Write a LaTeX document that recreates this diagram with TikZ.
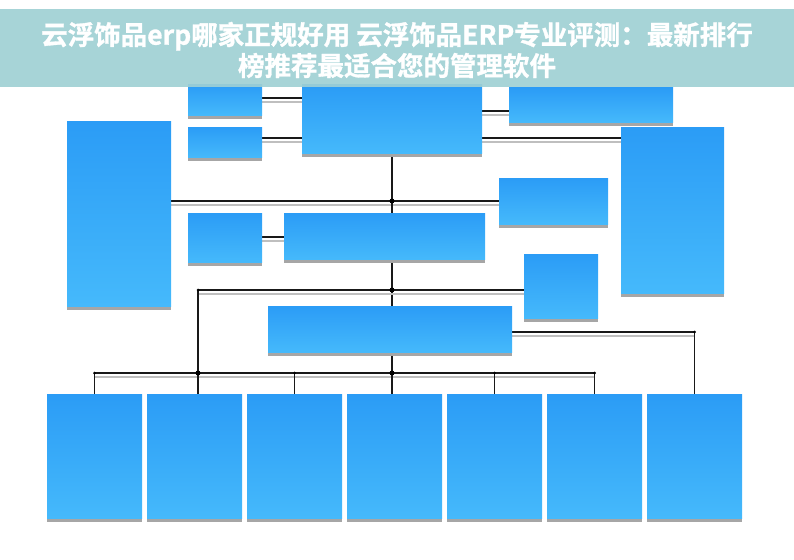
\documentclass[tikz,border=0pt]{standalone}
\usepackage{fontspec}
\newfontfamily\cjk[FakeBold=1.2]{Noto Sans CJK SC Bold}
\usetikzlibrary{shadows,backgrounds}
\definecolor{boxtop}{HTML}{2B9CF6}
\definecolor{boxbot}{HTML}{45B9FB}
\definecolor{band}{HTML}{9FD0D4}
\tikzset{
  box/.style={anchor=north west, inner sep=0pt, outer sep=0pt, top color=boxtop, bottom color=boxbot,
    drop shadow={shadow xshift=0pt, shadow yshift=-3.5pt, fill=black!35, opacity=1}},
  conn/.style={draw=black!90, line width=1.1pt,
    preaction={draw=black!25, line width=1.1pt, transform canvas={yshift=-4pt}}},
  jdot/.style={circle, fill=black, inner sep=0pt, minimum size=5pt},
  cdot/.style={circle, fill=black, inner sep=0pt, minimum size=3pt}
}
\begin{document}
\begin{tikzpicture}[x=1pt, y=-1pt]
\useasboundingbox (0,0) rectangle (794,559);
% boxes
\node[box, minimum width=74pt, minimum height=30pt] (A1) at (188,85) {};
\node[box, minimum width=74pt, minimum height=30pt] (A2) at (188,127) {};
\node[box, minimum width=180pt, minimum height=68pt] (T) at (302,85) {};
\node[box, minimum width=164pt, minimum height=34pt] (R1) at (509,88) {};
\node[box, minimum width=104pt, minimum height=185pt] (L) at (67,121) {};
\node[box, minimum width=103pt, minimum height=166pt] (Rt) at (621,127) {};
\node[box, minimum width=109pt, minimum height=46pt] (R2) at (499,178) {};
\node[box, minimum width=74pt, minimum height=49pt] (A3) at (188,213) {};
\node[box, minimum width=201pt, minimum height=46pt] (M) at (284,213) {};
\node[box, minimum width=74pt, minimum height=64pt] (R3) at (524,254) {};
\node[box, minimum width=244pt, minimum height=46pt] (B) at (268,306) {};
\foreach \i in {1,...,7}{
  \node[box, minimum width=95pt, minimum height=124pt] (b\i) at ({47+100*(\i-1)},394) {};
}
% connectors
\begin{pgfonlayer}{background}
\draw[conn] (A1.east |- 0,98) -- (T.west |- 0,98);
\draw[conn] (A2.east |- 0,138) -- (T.west |- 0,138);
\draw[conn] (T.east |- 0,111) -- (R1.west |- 0,111);
\draw[conn] (T.east |- 0,138) -- (Rt.west |- 0,138);
\draw[conn] (A3.east |- 0,237) -- (M.west |- 0,237);
\coordinate (j1) at (392,201);
\coordinate (j2) at (392,290);
\coordinate (c1) at (198,290);
\coordinate (j3) at (392,373);
\draw[conn] (L.east |- j1) -- (R2.west |- j1);
\draw[conn] (T.south -| j1) -- (M.north -| j1);
\draw[conn] (M.south -| j2) -- (B.north -| j2);
\draw[conn] (c1) -- (R3.west |- c1);
\draw[conn] (c1) -- (c1 |- j3);
\draw[conn] (b1.north |- j3) -- (b6.north |- j3);
\draw[conn] (B.south -| j3) -- (b4.north -| j3);
\foreach \i in {1,3,5,6}{
  \draw[conn] (b\i.north |- j3) -- (b\i.north);
  \node[cdot] at (b\i.north |- j3) {};
}
\draw[conn] (c1 |- j3) -- (c1 |- b2.north);
\draw[conn] (B.east |- 0,332) -| (b7.north);
\node[cdot] at (b7.north |- 0,332) {};
\node[jdot] at (j1) {};
\node[jdot] at (j2) {};
\node[jdot] at (j3) {};
\node[jdot] at (c1 |- j3) {};
\node[cdot] at (c1) {};
\end{pgfonlayer}
% title band
\fill[band, opacity=0.92] (0,9) rectangle (794,87);
\node[font=\cjk\fontsize{26.5}{31}\selectfont, text=white, align=center] (title) at (397,50)
  {云浮饰品erp哪家正规好用 云浮饰品ERP专业评测：最新排行\\榜推荐最适合您的管理软件};
\end{tikzpicture}
\end{document}
